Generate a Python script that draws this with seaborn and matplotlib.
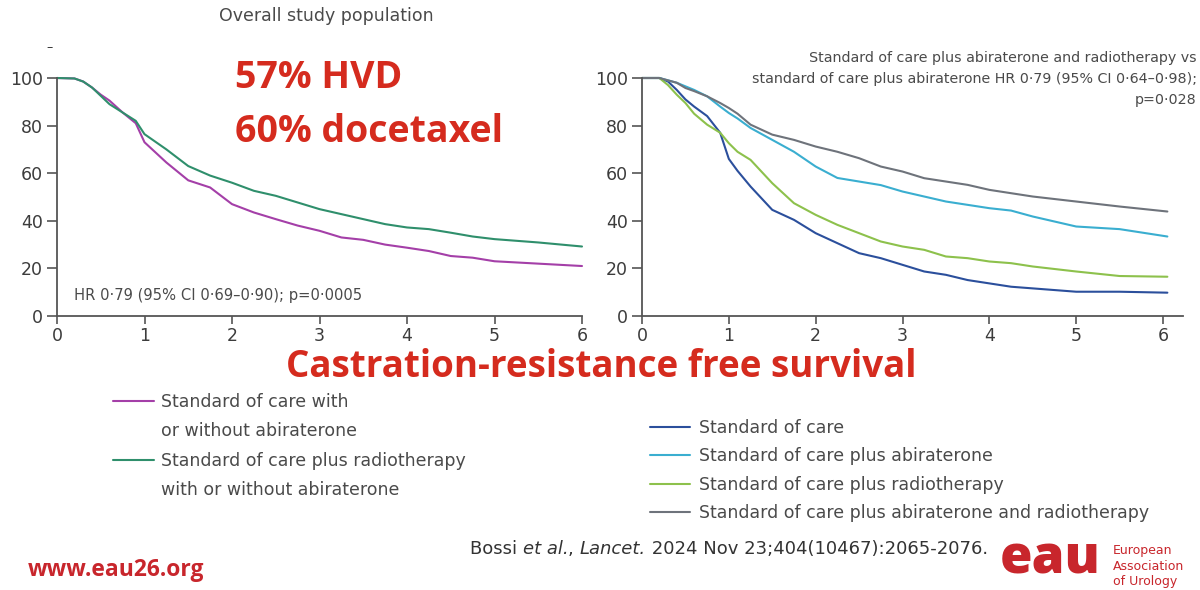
import pandas as pd
import seaborn as sns
import matplotlib.pyplot as plt

# left panel: overall study population (years vs % free of castration resistance)
t_left = [0, 0.2, 0.3, 0.4, 0.5, 0.6, 0.75, 0.9, 1.0, 1.25, 1.5, 1.75, 2.0, 2.25,
          2.5, 2.75, 3.0, 3.25, 3.5, 3.75, 4.0, 4.25, 4.5, 4.75, 5.0, 5.5, 6.0]
soc_any = [100, 99.8, 98.5, 96, 93, 90.5, 85.5, 81, 73, 64.5, 57, 54, 47, 43.5,
           40.7, 38, 35.8, 33, 32, 30, 28.7, 27.3, 25.2, 24.5, 23, 22, 21]
soc_rt_any = [100, 99.8, 98.5, 96, 92.5, 89, 85.5, 82, 76.4, 70, 63, 59, 56, 52.6,
              50.5, 47.7, 44.9, 42.8, 40.7, 38.6, 37.2, 36.5, 35, 33.4, 32.3, 30.9, 29.2]

# right panel: four arms
t_right = [0, 0.2, 0.3, 0.4, 0.5, 0.6, 0.75, 0.9, 1.0, 1.1, 1.25, 1.5, 1.75, 2.0,
           2.25, 2.5, 2.75, 3.0, 3.25, 3.5, 3.75, 4.0, 4.25, 4.5, 5.0, 5.5, 6.05]
soc = [100, 100, 98.5, 95, 91, 88, 84, 77, 66, 61, 54.4, 44.6, 40.4, 34.8,
       30.6, 26.4, 24.3, 21.5, 18.7, 17.3, 15.1, 13.7, 12.3, 11.6, 10.2, 10.2, 9.8]
soc_abi = [100, 100, 99, 98, 96.5, 95, 92.3, 88, 85.3, 83, 79, 74, 69, 62.8,
           58, 56.5, 55, 52.3, 50.2, 48.1, 46.7, 45.3, 44.3, 41.8, 37.6, 36.5, 33.4]
soc_rt = [100, 100, 97, 93, 89.5, 85, 80.4, 77, 72.6, 69, 65.6, 55.8, 47.4, 42.5,
          38.3, 34.8, 31.3, 29.2, 27.8, 25, 24.3, 22.9, 22.2, 20.8, 18.7, 16.8, 16.5]
soc_abi_rt = [100, 100, 99, 98, 95.8, 94.5, 92.3, 89.5, 87.4, 85, 80.4, 76.2, 74, 71.2,
              69, 66.3, 62.8, 60.7, 57.9, 56.5, 55.1, 53, 51.6, 50.2, 48.1, 46, 43.9]

left_labels = ["Standard of care with\nor without abiraterone",
               "Standard of care plus radiotherapy\nwith or without abiraterone"]
right_labels = ["Standard of care", "Standard of care plus abiraterone",
                "Standard of care plus radiotherapy",
                "Standard of care plus abiraterone and radiotherapy"]
ticks_x = [0, 1, 2, 3, 4, 5, 6]
ticks_y = [0, 20, 40, 60, 80, 100]

left_cols = ["#a43fa8", "#2f8f6c"]
right_cols = ["#2b4f9c", "#3aaed0", "#8dc14c", "#6e737b"]

df_l = pd.concat([pd.DataFrame({"t": t_left, "s": v, "arm": lab})
                  for v, lab in zip([soc_any, soc_rt_any], left_labels)])
df_r = pd.concat([pd.DataFrame({"t": t_right, "s": v, "arm": lab})
                  for v, lab in zip([soc, soc_abi, soc_rt, soc_abi_rt], right_labels)])

sns.set_style("ticks")
plt.rcParams['font.family'] = ['Liberation Sans Narrow', 'DejaVu Sans']
grey_txt = "#4a4a4a"
red = "#d52b1e"
red_font = ['Open Sans', 'DejaVu Sans']

fig = plt.figure(figsize=(12, 5.9), dpi=100)
def fx(px): return px / 1200
def fy(py): return 1 - py / 590

ax1 = fig.add_axes([fx(57), fy(316), 525 / 1200, 238 / 590])
ax2 = fig.add_axes([fx(642), fy(316), 541 / 1200, 238 / 590])

sns.lineplot(data=df_l, x="t", y="s", hue="arm", palette=left_cols, estimator=None,
             sort=False, lw=1.5, ax=ax1, legend=False)
sns.lineplot(data=df_r, x="t", y="s", hue="arm", palette=right_cols, estimator=None,
             sort=False, lw=1.5, ax=ax2, legend=False)

for ax, xmax in [(ax1, 6), (ax2, 6.23)]:
    ax.set_xlim(0, xmax)
    ax.set_ylim(0, 100)
    ax.set_xticks(ticks_x)
    ax.set_yticks(ticks_y)
    ax.set_xlabel("")
    ax.set_ylabel("")
    for ln in ax.lines:
        ln.set_clip_on(False)
    sns.despine(ax=ax)
    for sp in ["left", "bottom"]:
        ax.spines[sp].set_color("#555555")
        ax.spines[sp].set_linewidth(1.3)
    ax.tick_params(axis="both", colors="#555555", labelcolor="#3c3c3c",
                   labelsize=12.5, width=1.2)
    ax.tick_params(axis="x", length=6, pad=2)
    ax.tick_params(axis="y", length=7, pad=3)

# legends built from the plotted lines
blank = plt.Line2D([], [], linestyle="none")
lh = ax1.lines
ax1.legend([lh[0], blank, lh[1], blank],
           ["Standard of care with", "or without abiraterone",
            "Standard of care plus radiotherapy", "with or without abiraterone"],
           loc="upper left", bbox_to_anchor=(fx(113), fy(393)),
           bbox_transform=fig.transFigure, frameon=False, fontsize=12.5,
           handlelength=2.35, handletextpad=0.4, labelspacing=0.66,
           borderpad=0, borderaxespad=0, labelcolor=grey_txt)
rh = ax2.lines
ax2.legend(rh[:4], right_labels, loc="upper left",
           bbox_to_anchor=(fx(650), fy(419)), bbox_transform=fig.transFigure,
           frameon=False, fontsize=12.5, handlelength=2.3, handletextpad=0.55,
           labelspacing=0.6, borderpad=0, borderaxespad=0, labelcolor=grey_txt)

# panel texts
fig.text(fx(326), fy(16), "Overall study population", ha="center", va="center",
         fontsize=12.5, color=grey_txt)
ax1.text(0.2, 8.5, "HR 0·79 (95% CI 0·69–0·90); p=0·0005", fontsize=10.6,
         color=grey_txt, va="center")
fig.text(fx(1197), fy(79), "Standard of care plus abiraterone and radiotherapy vs\n"
         "standard of care plus abiraterone HR 0·79 (95% CI 0·64–0·98);\np=0·028",
         ha="right", va="center", fontsize=10.3, color=grey_txt, linespacing=1.6)
fig.text(fx(50), fy(48), "–", fontsize=9, color="#333333", ha="center", va="center")

# slide overlay texts
fig.text(fx(235), fy(78), "57% HVD", family=red_font, fontweight="bold", fontsize=27,
         color=red, va="center")
fig.text(fx(235), fy(132), "60% docetaxel", family=red_font, fontweight="bold",
         fontsize=27, color=red, va="center")
fig.text(fx(601), fy(367), "Castration-resistance free survival", family=red_font,
         fontweight="bold", fontsize=26.5, color=red, ha="center", va="center")
fig.text(fx(28), fy(570), "www.eau26.org", family=red_font, fontweight="bold",
         fontsize=16.5, color="#c8262c", va="center")

# citation with italic parts, chained one after another
prev = fig.text(fx(470), fy(554), "Bossi ", fontsize=13, color="#333333",
                va="baseline")
for s, st in [("et al.", "italic"), (", ", "normal"), ("Lancet.", "italic"),
              (" 2024 Nov 23;404(10467):2065-2076.", "normal")]:
    prev = fig.add_artist(plt.Annotation(s, xy=(1, 0), xycoords=prev, fontsize=13,
                                         color="#333333", style=st, va="bottom",
                                         annotation_clip=False))

# EAU logo
fig.text(fx(1050), fy(560), "eau", family=red_font, fontweight="heavy", fontsize=38,
         color="#c8262c", ha="center", va="center")
fig.text(fx(1113), fy(566), "European\nAssociation\nof Urology", fontsize=9,
         color="#c8262c", va="center", linespacing=1.25)

fig.savefig("out.png", dpi=100)
